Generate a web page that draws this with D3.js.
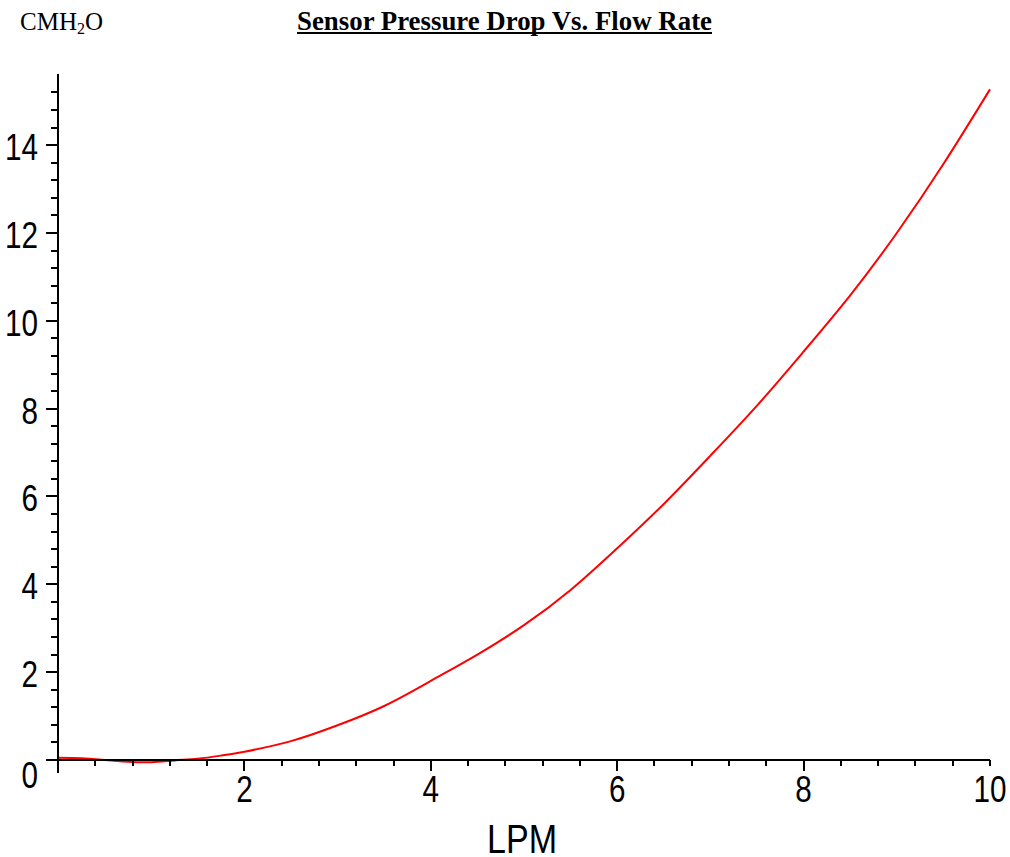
<!DOCTYPE html>
<html>
<head>
<meta charset="utf-8">
<script src="https://cdn.jsdelivr.net/npm/d3@7/dist/d3.min.js"></script>
<style>
  html, body { margin: 0; padding: 0; background: #fff; }
  svg { display: block; }
  .tick-label { font-family: "Liberation Sans", Arial, sans-serif; font-size: 36px; fill: #000; }
  .axis-title { font-family: "Liberation Sans", Arial, sans-serif; font-size: 41px; fill: #000; }
  .title { font-family: "Liberation Serif", "Times New Roman", serif; font-weight: bold; font-size: 26.5px; fill: #000; }
  .unit { font-family: "Liberation Serif", "Times New Roman", serif; font-size: 25px; fill: #000; }
</style>
</head>
<body>
<script>
// ---- data ----
const flowLPM = [0, 0.25, 0.5, 0.75, 1.0, 1.25, 1.5, 1.75, 2.0, 2.5, 3.0, 3.5, 4.0, 4.5, 5.0, 5.5, 6.0, 6.5, 7.0, 7.5, 8.0, 8.5, 9.0, 9.5, 10];
const pressureCMH2O = [0.05, 0.04, 0.0, -0.04, -0.05, -0.01, 0.03, 0.1, 0.19, 0.43, 0.79, 1.23, 1.8, 2.4, 3.07, 3.87, 4.82, 5.83, 6.93, 8.07, 9.3, 10.58, 12.0, 13.57, 15.27];
const xTickLabels = [2, 4, 6, 8, 10];
const yTickLabels = [0, 2, 4, 6, 8, 10, 12, 14];
const titleText = "Sensor Pressure Drop Vs. Flow Rate";
const xAxisTitle = "LPM";

const W = 1010, H = 857;
const svg = d3.select("body").append("svg").attr("width", W).attr("height", H);

const x = d3.scaleLinear().domain([0, 10]).range([58, 990]);
const y = d3.scaleLinear().domain([0, 15.62]).range([760, 74]);

// titles
const u = svg.append("text").attr("class", "unit").attr("x", 20).attr("y", 30).text("CMH");
u.append("tspan").attr("font-size", "16px").attr("dy", 4).text("2");
u.append("tspan").attr("dy", -4).text("O");

const t = svg.append("text").attr("class", "title").attr("x", 297).attr("y", 30)
  .attr("textLength", 415).attr("lengthAdjust", "spacingAndGlyphs").text(titleText);
svg.append("rect").attr("x", 297).attr("y", 32).attr("width", 415).attr("height", 2).attr("fill", "#000");

// curve
const line = d3.line().x((d, i) => x(flowLPM[i])).y(d => y(d)).curve(d3.curveNatural);
svg.append("path").datum(pressureCMH2O)
  .attr("d", line).attr("fill", "none").attr("stroke", "#ff0000").attr("stroke-width", 2);

// axes
const g = svg.append("g").attr("stroke", "#000").attr("stroke-width", 2).attr("shape-rendering", "crispEdges");
g.append("line").attr("x1", x(0)).attr("x2", x(0)).attr("y1", y.range()[1]).attr("y2", y(0) + 13);
g.append("line").attr("x1", x(0) - 12).attr("x2", x(10)).attr("y1", y(0)).attr("y2", y(0));

const yMinor = d3.range(0.4, 15.4, 0.4).filter(v => Math.abs(v / 2 - Math.round(v / 2)) > 1e-6);
g.selectAll(".ymin").data(yMinor).enter().append("line")
  .attr("x1", x(0) - 7).attr("x2", x(0)).attr("y1", d => Math.round(y(d))).attr("y2", d => Math.round(y(d)));
g.selectAll(".ymaj").data(yTickLabels.filter(v => v > 0)).enter().append("line")
  .attr("x1", x(0) - 12).attr("x2", x(0)).attr("y1", d => Math.round(y(d))).attr("y2", d => Math.round(y(d)));

const xMinor = d3.range(0.4, 10, 0.4).filter(v => Math.abs(v / 2 - Math.round(v / 2)) > 1e-6);
g.selectAll(".xmin").data(xMinor).enter().append("line")
  .attr("x1", d => Math.round(x(d))).attr("x2", d => Math.round(x(d))).attr("y1", y(0)).attr("y2", y(0) + 6);
g.selectAll(".xmaj").data(xTickLabels).enter().append("line")
  .attr("x1", d => Math.round(x(d))).attr("x2", d => Math.round(x(d))).attr("y1", y(0)).attr("y2", d => y(0) + (d === 10 ? 6 : 11));

// tick labels (narrow glyphs as in the reference)
svg.selectAll(".ylab").data(yTickLabels).enter().append("text")
  .attr("class", "tick-label").attr("text-anchor", "end")
  .attr("x", 38).attr("y", d => y(d) + (d === 0 ? 28 : 15))
  .attr("textLength", d => String(d).length * 16.5).attr("lengthAdjust", "spacingAndGlyphs")
  .text(d => d);

svg.selectAll(".xlab").data(xTickLabels).enter().append("text")
  .attr("class", "tick-label").attr("text-anchor", "middle")
  .attr("x", d => x(d)).attr("y", 802)
  .attr("textLength", d => String(d).length * 16.5).attr("lengthAdjust", "spacingAndGlyphs")
  .text(d => d);

svg.append("text").attr("class", "axis-title").attr("text-anchor", "middle")
  .attr("x", 522).attr("y", 853)
  .attr("textLength", 70).attr("lengthAdjust", "spacingAndGlyphs").text(xAxisTitle);
</script>
</body>
</html>
